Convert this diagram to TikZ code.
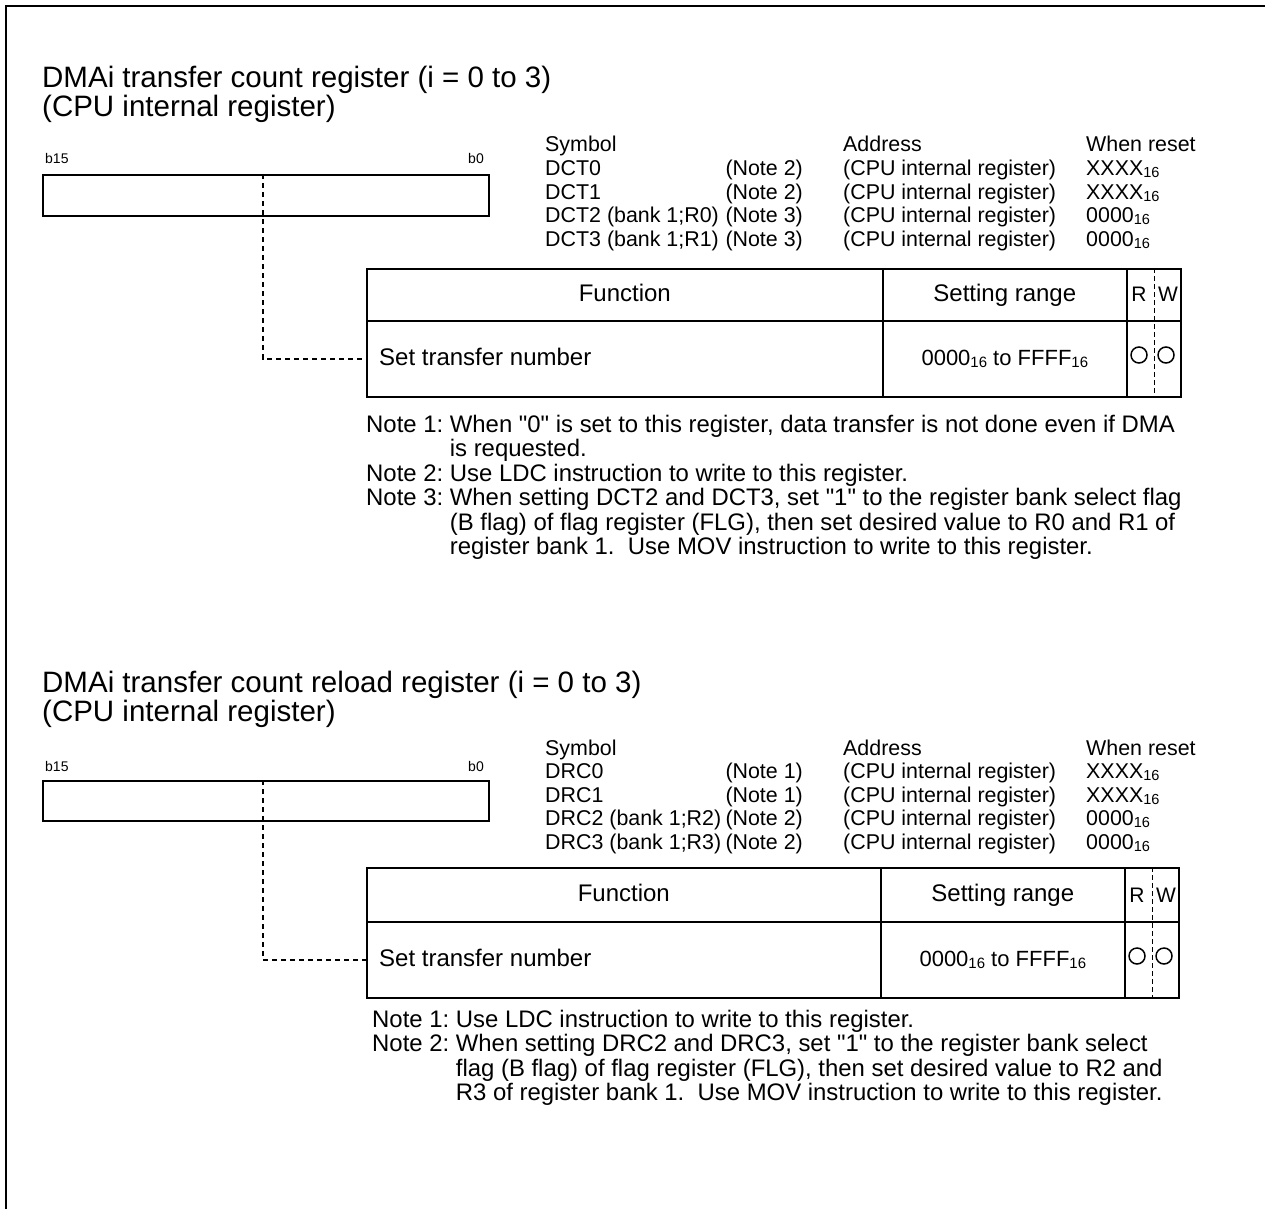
\documentclass[tikz,border=0pt]{standalone}
\usepackage{fontspec}
\setmainfont{Liberation Sans}[Ligatures=TeXOff]
\usepackage{graphicx}
\usetikzlibrary{positioning}

\newcommand\titlefont{\fontsize{29.5}{29}\selectfont}
\newcommand\bitfont{\fontsize{14}{16}\selectfont}
\newcommand\symfont{\fontsize{21.4}{23.5}\selectfont}
\newcommand\cellfont{\fontsize{24}{26}\selectfont}
\newcommand\rangefont{\fontsize{22}{24}\selectfont}
\newcommand\rwfont{\fontsize{21}{23}\selectfont}
\newcommand\notefont{\fontsize{23.9}{24}\selectfont}
\newcommand\hx[1]{\raisebox{-.2ex}{\scalebox{.68}{#1}}}
\newcommand\dq{\symbol{34}}

\begin{document}
\begin{tikzpicture}[x=1pt, y=-1pt,
  frameline/.style={line width=2.5pt},
  regbox/.style={draw, line width=1.8pt, inner sep=0pt, anchor=north west, minimum width=446pt},
  cellbox/.style={draw, line width=1.6pt, inner sep=0pt, anchor=north west},
  heading/.style={font=\titlefont, anchor=base west, inner sep=0pt},
  bitlabel/.style={font=\bitfont, inner sep=0pt},
  symtext/.style={font=\symfont, inner sep=0pt},
  celltext/.style={font=\cellfont, inner sep=0pt, text height=18pt, text depth=4pt},
  rangetext/.style={font=\rangefont, text height=16pt, text depth=3pt},
  rwtext/.style={font=\rwfont, inner sep=0pt},
  rwmark/.style={draw, circle, line width=1.5pt, minimum size=16pt, inner sep=0pt},
  tapline/.style={line width=1.6pt, dash pattern=on 5pt off 4pt},
  rwdiv/.style={line width=0.6pt, dash pattern=on 5pt off 3pt},
  notetext/.style={font=\notefont, anchor=base west, inner sep=0pt}]

\useasboundingbox (0,0) rectangle (1265,1209);
% frame, top and left side only
\coordinate (corner) at (6,6);
\draw[frameline] (1265,6) -- (corner) -- (6,1209);

%%% DMAi transfer count register
\node[heading] (title1) at (42,88) {DMAi transfer count register (i = 0 to 3)};
\node[heading] (sub1) at (42,117) {(CPU internal register)};
\node[bitlabel, anchor=base west] (msb1) at (45,164) {b15};
\node[bitlabel, anchor=base east] (lsb1) at (484,164) {b0};
\node[regbox, minimum height=41pt] (reg1) at (42,174) {};

\node[symtext, anchor=base west] (symh1) at (545,152) {Symbol};
\node[symtext, anchor=base west] (adrh1) at (843,152) {Address};
\node[symtext, anchor=base west] (rsth1) at (1086,152) {When reset};
\foreach \sym/\nt/\rst [count=\r] in {DCT0/2/XXXX, DCT1/2/XXXX, {DCT2 (bank 1;R0)}/3/0000, {DCT3 (bank 1;R1)}/3/0000} {
  \node[symtext, anchor=base west] (sym1-\r) at (545,152+23.5*\r) {\sym};
  \node[symtext, anchor=base east] (nt1-\r) at (803,152+23.5*\r) {(Note \nt)};
  \node[symtext, anchor=base west] (adr1-\r) at (843,152+23.5*\r) {(CPU internal register)};
  \node[symtext, anchor=base west] (rst1-\r) at (1086,152+23.5*\r) {\rst\hx{16}};
}

\node[cellbox, celltext, minimum width=516pt, minimum height=52pt] (fn1h) at (366,268) {Function};
\node[cellbox, celltext, minimum width=244pt, minimum height=52pt] (rg1h) at (882,268) {Setting range};
\node[cellbox, minimum width=54pt, minimum height=52pt] (rw1h) at (1126,268) {};
\node[cellbox, minimum width=516pt, minimum height=76pt] (fn1) at (366,320) {};
\node[cellbox, rangetext, minimum width=244pt, minimum height=76pt] (rg1) at (882,320) {0000\hx{16} to FFFF\hx{16}};
\node[cellbox, minimum width=54pt, minimum height=76pt] (rw1) at (1126,320) {};
\draw[rwdiv] (rw1h.north) -- (rw1.south);
\node[rwtext] (rd1) at (1139,294) {R};
\node[rwtext] (wr1) at (1168,294) {W};
\node[rwmark] (rdok1) at (1139,355) {};
\node[rwmark] (wrok1) at (1166,355) {};
\node[celltext, right=13pt of fn1.west] (fnrow1) {Set transfer number};

\coordinate (tap1) at (263,174);
\draw[tapline] (tap1) |- (fn1.west);

\node[notetext] (notes1) at (366,432) {\begin{tabular}[t]{@{}l@{\ }l@{}}
Note 1: & When \dq0\dq{} is set to this register, data transfer is not done even if DMA\\
 & is requested.\\
Note 2: & Use LDC instruction to write to this register.\\
Note 3: & When setting DCT2 and DCT3, set \dq1\dq{} to the register bank select flag\\
 & (B flag) of flag register (FLG), then set desired value to R0 and R1 of\\
 & register bank 1.~~Use MOV instruction to write to this register.
\end{tabular}};

%%% DMAi transfer count reload register
\node[heading] (title2) at (42,692) {DMAi transfer count reload register (i = 0 to 3)};
\node[heading] (sub2) at (42,721) {(CPU internal register)};
\node[bitlabel, anchor=base west] (msb2) at (45,771) {b15};
\node[bitlabel, anchor=base east] (lsb2) at (484,771) {b0};
\node[regbox, minimum height=40pt] (reg2) at (42,780) {};

\node[symtext, anchor=base west] (symh2) at (545,755) {Symbol};
\node[symtext, anchor=base west] (adrh2) at (843,755) {Address};
\node[symtext, anchor=base west] (rsth2) at (1086,755) {When reset};
\foreach \sym/\nt/\rst [count=\r] in {DRC0/1/XXXX, DRC1/1/XXXX, {DRC2 (bank 1;R2)}/2/0000, {DRC3 (bank 1;R3)}/2/0000} {
  \node[symtext, anchor=base west] (sym2-\r) at (545,755+23.5*\r) {\sym};
  \node[symtext, anchor=base east] (nt2-\r) at (803,755+23.5*\r) {(Note \nt)};
  \node[symtext, anchor=base west] (adr2-\r) at (843,755+23.5*\r) {(CPU internal register)};
  \node[symtext, anchor=base west] (rst2-\r) at (1086,755+23.5*\r) {\rst\hx{16}};
}

\node[cellbox, celltext, minimum width=514pt, minimum height=54pt] (fn2h) at (366,867) {Function};
\node[cellbox, celltext, minimum width=244pt, minimum height=54pt] (rg2h) at (880,867) {Setting range};
\node[cellbox, minimum width=54pt, minimum height=54pt] (rw2h) at (1124,867) {};
\node[cellbox, minimum width=514pt, minimum height=76pt] (fn2) at (366,921) {};
\node[cellbox, rangetext, minimum width=244pt, minimum height=76pt] (rg2) at (880,921) {0000\hx{16} to FFFF\hx{16}};
\node[cellbox, minimum width=54pt, minimum height=76pt] (rw2) at (1124,921) {};
\draw[rwdiv] (rw2h.north) -- (rw2.south);
\node[rwtext] (rd2) at (1137,895) {R};
\node[rwtext] (wr2) at (1166,895) {W};
\node[rwmark] (rdok2) at (1137,956) {};
\node[rwmark] (wrok2) at (1164,956) {};
\node[celltext, right=13pt of fn2.west] (fnrow2) {Set transfer number};

\coordinate (tap2) at (263,780);
\draw[tapline] (tap2) |- (fn2.west);

\node[notetext] (notes2) at (372,1027) {\begin{tabular}[t]{@{}l@{\ }l@{}}
Note 1: & Use LDC instruction to write to this register.\\
Note 2: & When setting DRC2 and DRC3, set \dq1\dq{} to the register bank select\\
 & flag (B flag) of flag register (FLG), then set desired value to R2 and\\
 & R3 of register bank 1.~~Use MOV instruction to write to this register.
\end{tabular}};

\end{tikzpicture}
\end{document}
